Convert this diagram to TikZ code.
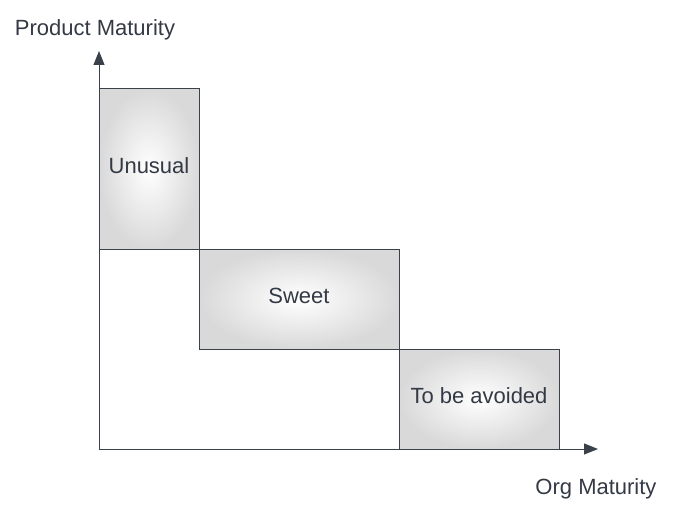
\documentclass[tikz,border=0pt]{standalone}
\usepackage{fontspec}
\setmainfont{Liberation Sans}
\usetikzlibrary{arrows.meta}
\definecolor{txt}{HTML}{333A45}
\definecolor{edge}{HTML}{3A414A}
\definecolor{boxout}{HTML}{D9D9D9}
\begin{document}
\begin{tikzpicture}[x=1pt,y=-1pt,
  zone/.style={draw=edge,line width=1pt,inner sep=0pt,
    shading=radial,inner color=white,outer color=boxout,
    text=txt,font=\fontsize{22}{26}\selectfont,
    text height=16pt,text depth=8pt},
  axis/.style={draw=edge,line width=1pt,-{Triangle[length=14pt,width=11pt]}},
  lbl/.style={text=txt,font=\fontsize{22}{26}\selectfont,inner sep=0pt}]
\useasboundingbox (0,0) rectangle (678,511);
\coordinate (O) at (99,449);
\coordinate (Ytop) at (99,51);
\coordinate (Xend) at (598,449);
\node[zone,minimum width=100pt,minimum height=160pt] (unusual) at (149,169) {Unusual};
\node[zone,minimum width=200pt,minimum height=100pt] (sweet) at (299,299) {Sweet};
\node[zone,minimum width=160pt,minimum height=100pt] (avoid) at (479,399) {To be avoided};
\draw[axis] (O) -- (Ytop);
\draw[axis] (O) -- (Xend);
\draw[draw=edge,line width=1pt] (unusual.south west) -- (unusual.south east);
\node[lbl] (ylabel) at (95,29.5) {Product Maturity};
\node[lbl] (xlabel) at (596,488.5) {Org Maturity};
\end{tikzpicture}
\end{document}
